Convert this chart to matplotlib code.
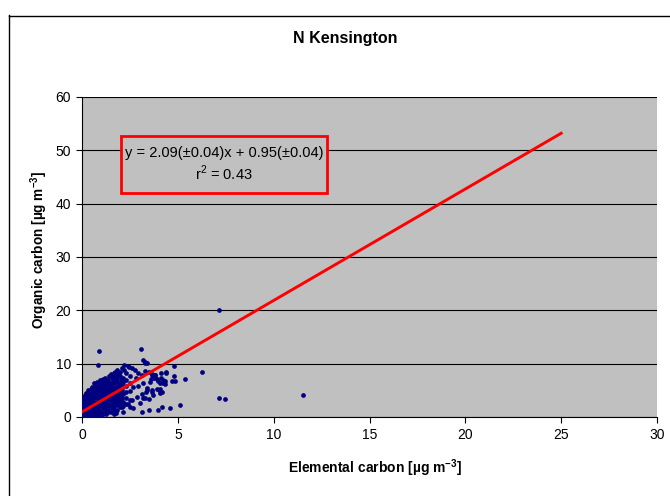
import matplotlib
matplotlib.use("Agg")
import matplotlib.pyplot as plt
from matplotlib.lines import Line2D
from matplotlib.patches import Rectangle

plt.rcParams['font.family'] = ['Liberation Sans', 'DejaVu Sans']
plt.rcParams['mathtext.fontset'] = 'custom'
plt.rcParams['mathtext.rm'] = 'Liberation Sans'
plt.rcParams['mathtext.bf'] = 'Liberation Sans:bold'

# dense cluster near the origin, read column by column
ec_cluster = [
    0.05, 0.02, 0.07, 0.04, 0.09, 0.03, 0.06,
    0.18, 0.16, 0.20, 0.17, 0.21, 0.15, 0.19, 0.18, 0.22,
    0.33, 0.35, 0.31, 0.34, 0.30, 0.36, 0.32, 0.35, 0.33, 0.31,
    0.48, 0.46, 0.50, 0.47, 0.51, 0.45, 0.49, 0.48, 0.52, 0.46, 0.50,
    0.63, 0.61, 0.65, 0.62, 0.66, 0.60, 0.64, 0.63, 0.67, 0.61, 0.65, 0.62,
    0.78, 0.80, 0.76, 0.79, 0.75, 0.81, 0.77, 0.78, 0.82, 0.76, 0.80, 0.79,
    0.93, 0.95, 0.91, 0.94, 0.90, 0.96, 0.92, 0.93, 0.97, 0.91, 0.95, 0.94, 0.92,
    1.08, 1.06, 1.10, 1.07, 1.11, 1.05, 1.09, 1.08, 1.12, 1.06, 1.10, 1.07, 1.09,
    1.23, 1.25, 1.21, 1.24, 1.20, 1.26, 1.22, 1.23, 1.27, 1.21, 1.25, 1.24, 1.22,
    1.38, 1.36, 1.40, 1.37, 1.41, 1.35, 1.39, 1.38, 1.42, 1.36, 1.40, 1.37, 1.39,
    1.53, 1.55, 1.51, 1.54, 1.50, 1.56, 1.52, 1.53, 1.57, 1.51, 1.55, 1.54, 1.52,
    1.68, 1.66, 1.70, 1.67, 1.71, 1.65, 1.69, 1.68, 1.72, 1.66, 1.70, 1.67, 1.69,
    1.83, 1.85, 1.81, 1.84, 1.80, 1.86, 1.82, 1.83, 1.87, 1.81, 1.85, 1.84,
    1.98, 1.96, 2.00, 1.97, 2.01, 1.95, 1.99, 1.98, 2.02, 1.96, 2.00,
    2.13, 2.15, 2.11, 2.14, 2.10, 2.16, 2.12, 2.13, 2.17,
    2.30, 2.28, 2.32, 2.29, 2.31, 2.27,
    2.50, 2.48, 2.52, 2.49, 2.51, 2.47,
    0.25, 0.45, 0.60, 0.85, 1.00,
]
oc_cluster = [
    0.4, 0.9, 1.5, 2.0, 2.6, 3.1, 3.7,
    0.3, 0.8, 1.3, 1.9, 2.4, 3.0, 3.5, 4.1, 4.5,
    0.2, 0.7, 1.2, 1.8, 2.3, 2.9, 3.4, 4.0, 4.5, 5.0,
    0.3, 0.8, 1.4, 1.9, 2.5, 3.0, 3.6, 4.1, 4.7, 5.2, 5.7,
    0.2, 0.7, 1.3, 1.8, 2.4, 2.9, 3.5, 4.0, 4.6, 5.1, 5.7, 6.3,
    0.4, 0.9, 1.5, 2.0, 2.6, 3.1, 3.7, 4.2, 4.8, 5.3, 5.9, 6.5,
    0.3, 0.9, 1.4, 2.0, 2.5, 3.1, 3.6, 4.2, 4.7, 5.3, 5.8, 6.4, 7.0,
    0.5, 1.0, 1.6, 2.1, 2.7, 3.2, 3.8, 4.3, 4.9, 5.4, 6.0, 6.6, 7.2,
    0.6, 1.2, 1.7, 2.3, 2.8, 3.4, 3.9, 4.5, 5.0, 5.6, 6.1, 6.7, 7.4,
    0.9, 1.4, 2.0, 2.5, 3.1, 3.6, 4.2, 4.7, 5.3, 5.8, 6.4, 7.0, 7.7,
    1.0, 1.6, 2.1, 2.7, 3.2, 3.8, 4.3, 4.9, 5.4, 6.0, 6.6, 7.3, 8.0,
    1.3, 1.9, 2.4, 3.0, 3.5, 4.1, 4.6, 5.2, 5.7, 6.3, 6.9, 7.6, 8.3,
    1.4, 2.2, 2.8, 3.3, 3.9, 4.4, 5.0, 5.5, 6.1, 6.7, 7.3, 8.1,
    1.8, 2.5, 3.2, 3.7, 4.3, 4.9, 5.6, 6.2, 6.9, 7.6, 8.5,
    2.0, 2.9, 3.6, 4.4, 5.1, 5.9, 6.6, 7.4, 8.9,
    2.4, 3.5, 4.6, 5.8, 7.0, 8.2,
    1.9, 3.2, 4.8, 6.3, 7.6, 9.4,
    0.05, 0.0, 0.1, 0.05, 0.15,
]

# scattered points around the cluster
ec_sparse = [
    1.72, 1.84, 2.07, 2.42, 2.59, 2.76, 2.94, 2.80, 3.11, 3.29, 3.50, 3.63,
    3.81, 3.98, 3.55, 3.20, 2.94, 2.68, 3.37, 3.63, 3.11, 2.85, 3.29, 2.59,
    2.42, 3.03, 2.07, 2.68, 1.69, 1.76, 2.16,
    3.37, 3.34, 3.63, 3.90, 4.02, 4.07, 3.72, 3.50, 3.16,
    3.65, 3.81, 3.69, 3.90, 3.60, 4.07, 4.24, 4.33, 3.27,
    0.90, 3.06, 3.20, 3.29, 0.83, 2.19, 3.39, 4.38, 6.24, 5.36, 7.15, 7.44,
    5.13, 4.59, 4.19, 3.95, 3.48, 3.13, 4.80, 4.85, 4.78, 3.82, 4.71, 4.31,
    4.17, 4.07, 4.14, 4.21, 4.10, 4.37, 7.15, 11.55,
]
oc_sparse = [
    8.5, 8.8, 9.1, 9.6, 9.1, 8.8, 8.2, 7.4, 7.9, 8.7, 8.5, 7.9,
    7.25, 6.8, 6.6, 6.3, 5.8, 5.6, 5.4, 4.75, 4.3, 3.8, 3.5, 3.2,
    2.4, 2.6, 1.9, 1.6, 0.5, 0.7, 1.0,
    5.06, 4.6, 5.06, 5.2, 5.06, 4.56, 4.1, 3.3, 3.5,
    8.06, 7.9, 7.4, 7.1, 7.06, 6.3, 6.4, 6.8, 10.4,
    12.4, 12.7, 10.6, 10.2, 9.75, 9.75, 10.1, 8.4, 8.5, 7.06, 3.6, 3.4,
    2.3, 1.75, 1.8, 1.3, 1.3, 1.0, 9.5, 6.75, 7.7, 7.9, 6.8, 6.25,
    4.7, 5.2, 7.4, 6.9, 8.2, 8.2, 20.1, 4.2,
]

slope = 2.09
intercept = 0.95
fit_x = [0, 25]

fig = plt.figure(figsize=(6.7, 4.96), dpi=100)
ax = fig.add_axes([82 / 670, 1 - 417 / 496, 575 / 670, 320 / 496])
ax.set_facecolor('#c0c0c0')

ax.plot(ec_cluster + ec_sparse, oc_cluster + oc_sparse, 'o', color='#000080',
        ms=3.4, mew=0, zorder=3)
ax.plot(fit_x, [slope * v + intercept for v in fit_x], color='red', lw=2.1, zorder=4)

ax.set_xlim(0, 30)
ax.set_ylim(0, 60)
ax.set_xticks(range(0, 31, 5))
ax.set_yticks(range(0, 61, 10))
ax.yaxis.grid(True, color='black', lw=0.8)
ax.set_axisbelow(True)
ax.tick_params(direction='out', length=4, width=0.8, labelsize=10, pad=4)
for s in ['top', 'right']:
    ax.spines[s].set_visible(False)
for s in ['left', 'bottom']:
    ax.spines[s].set_linewidth(0.8)

fig.text(375 / 670, 1 - 468 / 496, 'Elemental carbon [µg m$^{\\mathbf{-3}}$]',
         ha='center', va='center', fontsize=10, fontweight='bold')
fig.text(39 / 670, 1 - 250 / 496, 'Organic carbon [µg m$^{\\mathbf{-3}}$]',
         ha='center', va='center', rotation=90, fontsize=9.8, fontweight='bold')
fig.text(345 / 670, 1 - 39 / 496, 'N Kensington', ha='center', va='center',
         fontsize=11.5, fontweight='bold')

# equation box
fig.add_artist(Rectangle((121 / 670, 1 - 193 / 496), 206 / 670, 57 / 496,
                         transform=fig.transFigure, facecolor='#c0c0c0',
                         edgecolor='red', lw=2, zorder=5))
fig.text(224 / 670, 1 - 153 / 496, 'y = 2.09(±0.04)x + 0.95(±0.04)',
         ha='center', va='center', fontsize=10.5, zorder=6)
fig.text(224 / 670, 1 - 173 / 496, 'r$^2$ = 0.43', ha='center', va='center',
         fontsize=10.5, zorder=6)

# chart frame, cut off at right and bottom
fig.add_artist(Line2D([8.5 / 670, 8.5 / 670], [0, 1 - 15 / 496], color='black', lw=1))
fig.add_artist(Line2D([8.5 / 670, 1], [1 - 15.5 / 496, 1 - 15.5 / 496], color='black', lw=1))

fig.savefig('out.png', dpi=100)
